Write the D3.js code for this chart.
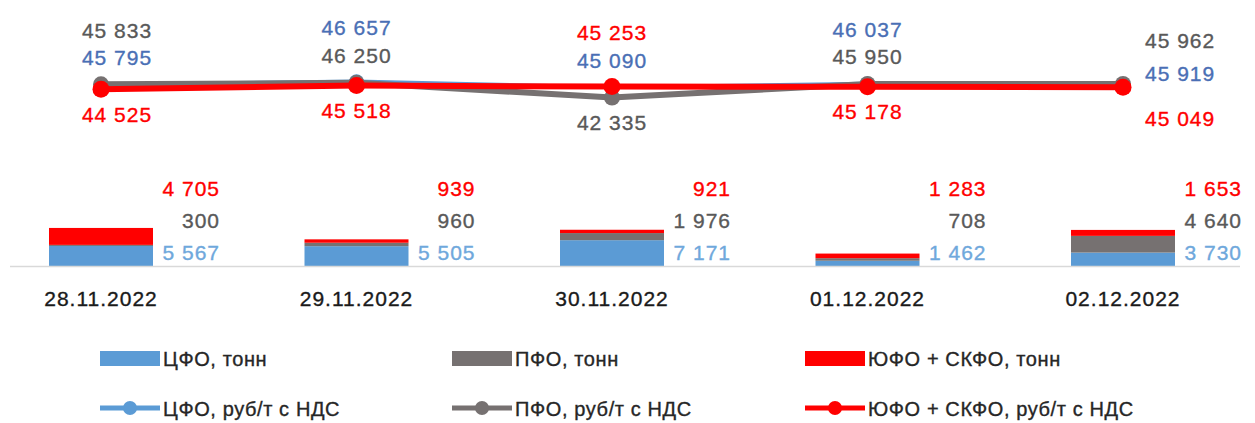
<!DOCTYPE html>
<html>
<head>
<meta charset="utf-8">
<script src="https://cdn.jsdelivr.net/npm/d3@7"></script>
<style>
  body { margin: 0; background: #fff; }
  text { font-family: "Liberation Sans", Arial, sans-serif; stroke-width: 0.35px; }
</style>
</head>
<body>
<div id="chart"></div>
<script>
// data
var dates = ["28.11.2022", "29.11.2022", "30.11.2022", "01.12.2022", "02.12.2022"];
var cfoTons = [5567, 5505, 7171, 1462, 3730];
var pfoTons = [300, 960, 1976, 708, 4640];
var yufoTons = [4705, 939, 921, 1283, 1653];
var cfoPrice = [45795, 46657, 45090, 46037, 45919];
var pfoPrice = [45833, 46250, 42335, 45950, 45962];
var yufoPrice = [44525, 45518, 45253, 45178, 45049];
var seriesNames = ["ЦФО", "ПФО", "ЮФО + СКФО"];

var width = 1255, height = 423;
var baseline = 266;
var barWidth = 104;

var barColors = ["#5b9bd5", "#767171", "#ff0000"];
var lineColors = ["#5b9bd5", "#767171", "#ff0000"];
var lineLabelColors = ["#4a6fb5", "#595959", "#ff0000"];
var barLabelColors = ["#6fa8dc", "#595959", "#ff0000"];

var fmt = function(v) { return d3.format(",")(v).replace(/,/g, " "); };

var svg = d3.select("#chart").append("svg")
  .attr("width", width)
  .attr("height", height);

svg.append("rect").attr("width", width).attr("height", height).attr("fill", "#fff");

var x = d3.scalePoint()
  .domain(dates)
  .range([101, 1123]);

// primary axis (tons), hidden
var yBar = d3.scaleLinear()
  .domain([0, 70000])
  .range([baseline, 14]);

// secondary axis (price), hidden
var yLine = d3.scaleLinear()
  .domain([0, 60000])
  .range([257, 31]);

var tons = [cfoTons, pfoTons, yufoTons];
var prices = [cfoPrice, pfoPrice, yufoPrice];

// stacked bars
var rows = dates.map(function(d, i) {
  return { date: d, s0: cfoTons[i], s1: pfoTons[i], s2: yufoTons[i] };
});
var stack = d3.stack().keys(["s0", "s1", "s2"])(rows);

svg.selectAll("g.layer")
  .data(stack)
  .join("g")
  .attr("class", "layer")
  .attr("fill", function(d, i) { return barColors[i]; })
  .selectAll("rect")
  .data(function(d) { return d; })
  .join("rect")
  .attr("x", function(d) { return x(d.data.date) - barWidth / 2; })
  .attr("width", barWidth)
  .attr("y", function(d) { return yBar(d[1]); })
  .attr("height", function(d) { return yBar(d[0]) - yBar(d[1]); });

// category axis line
svg.append("line")
  .attr("x1", 10).attr("x2", 1240)
  .attr("y1", baseline + 0.5).attr("y2", baseline + 0.5)
  .attr("stroke", "#d9d9d9")
  .attr("stroke-width", 1.5);

// bar value labels
var barLabelDy = [-14, -46, -78];
tons.forEach(function(arr, s) {
  svg.selectAll("text.bar" + s)
    .data(arr)
    .join("text")
    .attr("class", "bar" + s)
    .attr("x", function(d, i) { return x(dates[i]) + barWidth / 2 + 67; })
    .attr("y", baseline + barLabelDy[s])
    .attr("text-anchor", "end")
    .attr("dominant-baseline", "central")
    .attr("font-size", 21)
    .attr("letter-spacing", 1)
    .attr("fill", barLabelColors[s])
    .attr("stroke", barLabelColors[s])
    .text(fmt);
});

// date labels
svg.selectAll("text.date")
  .data(dates)
  .join("text")
  .attr("class", "date")
  .attr("x", function(d) { return x(d); })
  .attr("y", 298)
  .attr("text-anchor", "middle")
  .attr("dominant-baseline", "central")
  .attr("font-size", 21)
  .attr("letter-spacing", 1)
  .attr("fill", "#1a1a1a")
  .attr("stroke", "#1a1a1a")
  .text(function(d) { return d; });

// price lines
var lineWidths = [3.5, 6, 6];
var dotR = [7, 8, 8.5];
var line = d3.line()
  .x(function(d, i) { return x(dates[i]); })
  .y(function(d) { return yLine(d); });

prices.forEach(function(arr, s) {
  svg.append("path")
    .datum(arr)
    .attr("fill", "none")
    .attr("stroke", lineColors[s])
    .attr("stroke-width", lineWidths[s])
    .attr("stroke-linejoin", "round")
    .attr("d", line);
  svg.selectAll("circle.dot" + s)
    .data(arr)
    .join("circle")
    .attr("class", "dot" + s)
    .attr("cx", function(d, i) { return x(dates[i]); })
    .attr("cy", function(d) { return yLine(d); })
    .attr("r", dotR[s])
    .attr("fill", lineColors[s]);
});

// price labels: two highest above the point, lowest below
var rankDy = [-54, -27, 25];
var lastDy = [-43, -11, 31];
dates.forEach(function(date, i) {
  var items = prices.map(function(arr, s) { return { s: s, v: arr[i] }; })
    .sort(function(a, b) { return b.v - a.v; });
  var last = i === dates.length - 1;
  items.forEach(function(it, r) {
    svg.append("text")
      .attr("x", last ? x(date) + 22 : Math.max(x(date), 117))
      .attr("y", yLine(it.v) + (last ? lastDy[r] : rankDy[r]))
      .attr("text-anchor", last ? "start" : "middle")
      .attr("dominant-baseline", "central")
      .attr("font-size", 21)
      .attr("letter-spacing", 1)
      .attr("fill", lineLabelColors[it.s])
      .attr("stroke", lineLabelColors[it.s])
      .text(fmt(it.v));
  });
});

// legend
var legendX = [100, 452, 805];
var legend = svg.append("g");
seriesNames.forEach(function(name, s) {
  legend.append("rect")
    .attr("x", legendX[s]).attr("y", 351)
    .attr("width", 60).attr("height", 15)
    .attr("fill", barColors[s]);
  legend.append("text")
    .attr("x", legendX[s] + 63).attr("y", 359)
    .attr("dominant-baseline", "central")
    .attr("font-size", 20)
    .attr("letter-spacing", 0.6)
    .attr("fill", "#262626")
    .attr("stroke", "#262626")
    .text(name + ", тонн");

  legend.append("line")
    .attr("x1", legendX[s]).attr("x2", legendX[s] + 60)
    .attr("y1", 408).attr("y2", 408)
    .attr("stroke", lineColors[s])
    .attr("stroke-width", 5);
  legend.append("circle")
    .attr("cx", legendX[s] + 30).attr("cy", 408)
    .attr("r", 7)
    .attr("fill", lineColors[s]);
  legend.append("text")
    .attr("x", legendX[s] + 63).attr("y", 409)
    .attr("dominant-baseline", "central")
    .attr("font-size", 20)
    .attr("letter-spacing", 0.6)
    .attr("fill", "#262626")
    .attr("stroke", "#262626")
    .text(name + ", руб/т с НДС");
});
</script>
</body>
</html>
